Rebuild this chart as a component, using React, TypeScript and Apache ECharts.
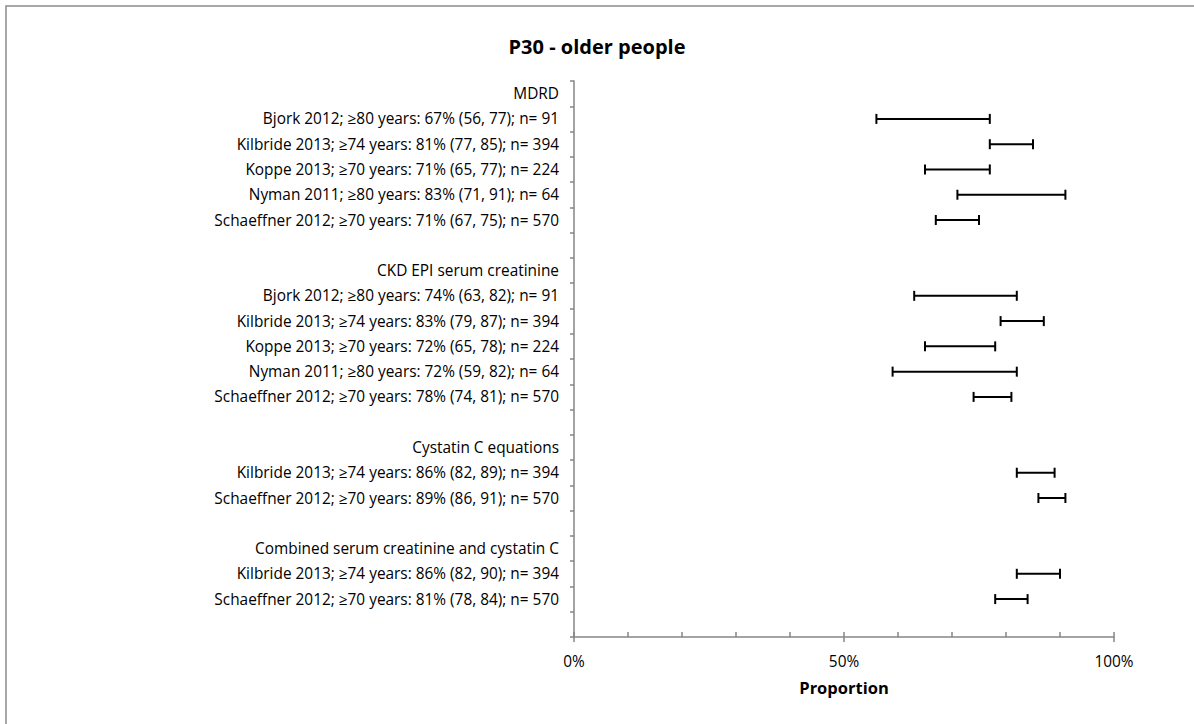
import React, { useEffect, useRef } from "react";
import * as echarts from "echarts";

const titleText = "P30 - older people";
const xAxisName = "Proportion";

const categories: string[] = [
  "MDRD",
  "Bjork 2012; ≥80 years: 67% (56, 77); n= 91",
  "Kilbride 2013; ≥74 years: 81% (77, 85); n= 394",
  "Koppe 2013; ≥70 years: 71% (65, 77); n= 224",
  "Nyman 2011; ≥80 years: 83% (71, 91); n= 64",
  "Schaeffner 2012; ≥70 years: 71% (67, 75); n= 570",
  " ",
  "CKD EPI serum creatinine",
  "Bjork 2012; ≥80 years: 74% (63, 82); n= 91",
  "Kilbride 2013; ≥74 years: 83% (79, 87); n= 394",
  "Koppe 2013; ≥70 years: 72% (65, 78); n= 224",
  "Nyman 2011; ≥80 years: 72% (59, 82); n= 64",
  "Schaeffner 2012; ≥70 years: 78% (74, 81); n= 570",
  "  ",
  "Cystatin C equations",
  "Kilbride 2013; ≥74 years: 86% (82, 89); n= 394",
  "Schaeffner 2012; ≥70 years: 89% (86, 91); n= 570",
  "   ",
  "Combined serum creatinine and cystatin C",
  "Kilbride 2013; ≥74 years: 86% (82, 90); n= 394",
  "Schaeffner 2012; ≥70 years: 81% (78, 84); n= 570",
  "    ",
];

const ciLow: (number | null)[] = [
  null, 56, 77, 65, 71, 67, null, null, 63, 79, 65, 59, 74, null, null, 82, 86, null, null, 82, 78, null,
];
const ciHigh: (number | null)[] = [
  null, 77, 85, 77, 91, 75, null, null, 82, 87, 78, 82, 81, null, null, 89, 91, null, null, 90, 84, null,
];

const xTickLabels = ["0%", "50%", "100%"];

const FONT = "'Open Sans', Lato, sans-serif";
const AXIS_GREY = "#868686";

export default function App() {
  const ref = useRef<HTMLDivElement>(null);

  useEffect(() => {
    if (!ref.current) return;
    const chart = echarts.init(ref.current, null, { renderer: "svg" });

    const data: number[][] = [];
    ciLow.forEach((lo, i) => {
      const hi = ciHigh[i];
      if (lo != null && hi != null) data.push([lo, hi, i]);
    });

    const option: any = {
      animation: false,
      backgroundColor: "#ffffff",
      title: {
        text: titleText,
        left: "center",
        top: 31,
        textStyle: { fontFamily: FONT, fontSize: 20, fontWeight: "bold", color: "#000" },
      },
      graphic: [
        {
          type: "rect",
          shape: { x: 6, y: 6, width: 1300, height: 900 },
          style: { fill: "none", stroke: "#8a8a8a", lineWidth: 1.5 },
          silent: true,
        },
      ],
      grid: { left: 574, right: 80, top: 81, bottom: 87, containLabel: false },
      xAxis: [
        {
          type: "value",
          min: 0,
          max: 100,
          interval: 50,
          name: xAxisName,
          nameLocation: "middle",
          nameGap: 42,
          nameTextStyle: { fontFamily: FONT, fontSize: 16.5, fontWeight: "bold", color: "#000" },
          axisLine: { show: true, lineStyle: { color: AXIS_GREY, width: 1.5 } },
          axisTick: { show: true, inside: false, length: 5, lineStyle: { color: AXIS_GREY, width: 1.5 } },
          axisLabel: {
            fontFamily: FONT,
            fontSize: 15.4,
            color: "#000",
            margin: 17,
            formatter: (v: number) => xTickLabels[Math.round(v / 50)] ?? "",
          },
          splitLine: { show: false },
        },
        {
          type: "value",
          min: 0,
          max: 100,
          interval: 10,
          position: "bottom",
          axisLine: { show: false },
          axisTick: { show: true, inside: true, length: 5, lineStyle: { color: AXIS_GREY, width: 1.5 } },
          axisLabel: { show: false },
          splitLine: { show: false },
        },
      ],
      yAxis: {
        type: "category",
        inverse: true,
        data: categories,
        boundaryGap: true,
        axisLine: { show: true, lineStyle: { color: AXIS_GREY, width: 1.5 } },
        axisTick: { show: true, inside: false, length: 4, lineStyle: { color: AXIS_GREY, width: 1.5 } },
        axisLabel: {
          fontFamily: FONT,
          fontSize: 15.4,
          color: "#000",
          margin: 15,
          interval: 0,
        },
        splitLine: { show: false },
      },
      series: [
        {
          type: "custom",
          xAxisIndex: 0,
          yAxisIndex: 0,
          data,
          encode: { x: [0, 1], y: 2 },
          renderItem: (params: any, api: any) => {
            const idx = api.value(2);
            const lo = api.coord([api.value(0), idx]);
            const hi = api.coord([api.value(1), idx]);
            const h = 5;
            const style = { stroke: "#000", lineWidth: 2 };
            return {
              type: "group",
              children: [
                { type: "line", shape: { x1: lo[0], y1: lo[1], x2: hi[0], y2: hi[1] }, style },
                { type: "line", shape: { x1: lo[0], y1: lo[1] - h, x2: lo[0], y2: lo[1] + h }, style },
                { type: "line", shape: { x1: hi[0], y1: hi[1] - h, x2: hi[0], y2: hi[1] + h }, style },
              ],
            };
          },
        },
      ],
    };

    chart.setOption(option);
    return () => chart.dispose();
  }, []);

  return (
    <div
      ref={ref}
      style={{ position: "absolute", left: 0, top: 0, width: 1194, height: 724, background: "#fff" }}
    />
  );
}
